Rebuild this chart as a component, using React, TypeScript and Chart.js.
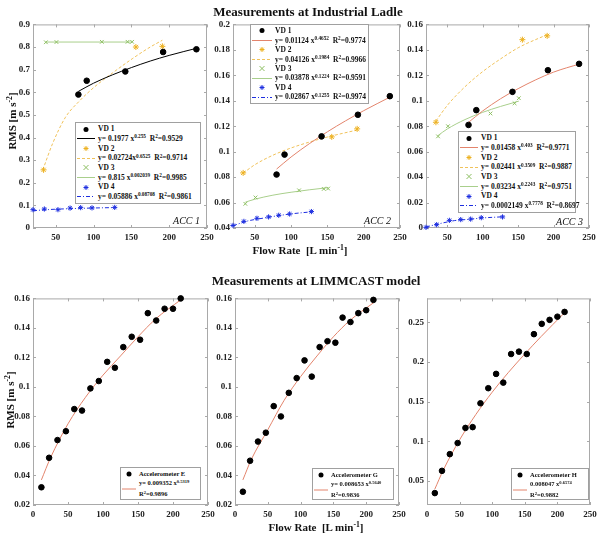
import React, { useEffect, useRef } from "react";
import { Chart, registerables } from "chart.js";
Chart.register(...registerables);

// ---------------- data ----------------
const TOP_X_TICKS = [50, 100, 150, 200, 250];
const BOTTOM_X_TICKS = [0, 50, 100, 150, 200, 250];
const ACC1_Y_TICKS = [0, 0.1, 0.2, 0.3, 0.4, 0.5, 0.6, 0.7, 0.8, 0.9];
const ACC2_Y_TICKS = [0.04, 0.06, 0.08, 0.1, 0.12, 0.14, 0.16, 0.18, 0.2];
const ACC3_Y_TICKS = [0, 0.02, 0.04, 0.06, 0.08, 0.1, 0.12, 0.14, 0.16];
const LIM_Y_TICKS = [0.02, 0.04, 0.06, 0.08, 0.1, 0.12, 0.14, 0.16];
const H_Y_TICKS = [0.05, 0.1, 0.15, 0.2, 0.25];

// flow rates of the ladle measurements
const VD1_X = [80, 91, 142, 192, 236];
const VD2_X = [34, 156, 191];
const VD3_X = [37, 51, 111, 145, 151];
const VD4_X = [20, 35, 53, 69, 83, 98, 128];

const ACC1_VD1 = [0.59, 0.651, 0.692, 0.778, 0.79];
const ACC1_VD2 = [0.257, 0.8, 0.803];
const ACC1_VD3 = [0.821, 0.822, 0.823, 0.823, 0.823];
const ACC1_VD4 = [0.081, 0.084, 0.081, 0.088, 0.09, 0.089, 0.091];

const ACC2_VD1 = [0.082, 0.0977, 0.112, 0.129, 0.1436];
const ACC2_VD2 = [0.0833, 0.1116, 0.1179];
const ACC2_VD3 = [0.059, 0.064, 0.0696, 0.0707, 0.071];
const ACC2_VD4 = [0.042, 0.0452, 0.0476, 0.0487, 0.05, 0.051, 0.0529];

const ACC3_VD1 = [0.081, 0.0926, 0.107, 0.124, 0.129];
const ACC3_VD2 = [0.0831, 0.148, 0.151];
const ACC3_VD3 = [0.072, 0.08, 0.09, 0.098, 0.102];
const ACC3_VD4 = [0.0005, 0.0026, 0.006, 0.0066, 0.007, 0.0081, 0.0087];

// fitted curves
const FIT_VD1_X = [80, 100, 125, 150, 175, 200, 237];
const ACC1_FIT_VD1 = [0.604, 0.64, 0.677, 0.709, 0.738, 0.763, 0.795];
const ACC1_FIT_VD2_X = [33, 46, 63, 81, 100, 125, 152, 175, 191];
const ACC1_FIT_VD2 = [0.257, 0.374, 0.49, 0.56, 0.62, 0.685, 0.75, 0.8, 0.83];
const ACC1_FIT_VD3_X = [37, 151];
const ACC1_FIT_VD3 = [0.822, 0.822];
const FIT_VD4_X = [20, 40, 60, 80, 100, 128];
const ACC1_FIT_VD4 = [0.0765, 0.0814, 0.0844, 0.0866, 0.0884, 0.0903];

const FIT_VD2_X = [34, 50, 75, 100, 125, 150, 191];
const FIT_VD3_X = [37, 50, 75, 100, 125, 151];
const ACC2_FIT_VD1 = [0.0863, 0.0958, 0.1062, 0.1156, 0.1242, 0.1322, 0.1431];
const ACC2_FIT_VD2 = [0.0831, 0.0897, 0.0972, 0.1029, 0.1075, 0.1115, 0.117];
const ACC2_FIT_VD3 = [0.0603, 0.0626, 0.0658, 0.0681, 0.07, 0.0717];
const ACC2_FIT_VD4 = [0.0418, 0.0455, 0.0476, 0.0495, 0.0511, 0.0527];

const ACC3_FIT_VD1 = [0.083, 0.092, 0.1015, 0.1095, 0.1165, 0.1225, 0.129];
const ACC3_FIT_VD2 = [0.0841, 0.0963, 0.111, 0.1229, 0.1328, 0.1416, 0.152];
const ACC3_FIT_VD3 = [0.0727, 0.0778, 0.0852, 0.0909, 0.0955, 0.0997];
const ACC3_FIT_VD4 = [0.0008, 0.0035, 0.0058, 0.0068, 0.0079, 0.0088];

// LIMMCAST model
const LIM_X = [12, 23, 35, 47, 59, 70, 82, 94, 106, 117, 129, 141, 153, 164, 176, 188, 200, 211];
const ACC_E = [0.032, 0.052, 0.064, 0.07, 0.085, 0.084, 0.099, 0.104, 0.117, 0.113, 0.127, 0.134, 0.132, 0.15, 0.145, 0.153, 0.153, 0.16];
const ACC_G = [0.029, 0.05, 0.063, 0.069, 0.087, 0.08, 0.096, 0.106, 0.118, 0.107, 0.127, 0.131, 0.13, 0.147, 0.144, 0.15, 0.152, 0.159];
const ACC_H = [0.035, 0.063, 0.084, 0.098, 0.117, 0.118, 0.148, 0.167, 0.185, 0.174, 0.21, 0.213, 0.21, 0.235, 0.248, 0.253, 0.257, 0.263];
const LIM_FIT_X = [12, 25, 50, 75, 100, 125, 150, 175, 211];
const FIT_E = [0.037, 0.052, 0.075, 0.093, 0.108, 0.121, 0.134, 0.146, 0.159];
const FIT_G = [0.037, 0.051, 0.071, 0.091, 0.107, 0.121, 0.134, 0.145, 0.157];
const FIT_H = [0.04, 0.064, 0.102, 0.134, 0.162, 0.187, 0.21, 0.232, 0.262];

// legend equations: [coefficient + " x", exponent, R^2]
const ACC1_EQ = [["0.1977 x", "0.255", "0.9529"], ["0.02724x", "0.6525", "0.9714"], ["0.815 x", "0.002039", "0.9985"], ["0.05886 x", "0.08708", "0.9861"]];
const ACC2_EQ = [["0.01124 x", "0.4652", "0.9774"], [" 0.04126 x", "0.1984", "0.9966"], ["0.03878 x", "0.1224", "0.9591"], ["0.02867  x", "0.1255", "0.9974"]];
const ACC3_EQ = [["0.01458 x", "0.403", "0.9771"], ["0.02441 x", "0.3509", "0.9887"], ["0.03234  x", "0.2243", "0.9751"], ["0.0002149  x", "0.7778", "0.8697"]];
const VD_NAMES = ["VD 1", "VD 2", "VD 3", "VD 4"];
const LIM_NAMES = ["Accelerometer E", "Accelerometer G", "Accelerometer H"];
const LIM_EQ = [["y= 0.009352 x", "0.5319", "0.9896"], ["y= 0.008653 x", "0.5640", "0.9836"], ["0.008047 x", "0.6574", "0.9882"]];

// ---------------- styling ----------------
const SERIF = '"Liberation Serif", "Times New Roman", serif';
const COL = {
  black: "#000000",
  red: "#e3846c",
  orange: "#edb120",
  orangeLine: "#f0c25a",
  green: "#8dbf62",
  greenLine: "#a9cf8c",
  blue: "#1d2ee0",
};
const YW = 34, PT = 8, PR = 14, XH = 20;

const pts = (xs: number[], ys: number[]) => xs.map((x, i) => ({ x, y: ys[i] }));

function markers(xs: number[], ys: number[], style: string, color: string, r = 3) {
  return {
    data: pts(xs, ys),
    showLine: false,
    pointStyle: style,
    pointRadius: r,
    pointBorderColor: color,
    pointBackgroundColor: color,
    pointBorderWidth: 1,
    clip: false,
  };
}
function fit(xs: number[], ys: number[], color: string, dash: number[] = []) {
  return {
    data: pts(xs, ys),
    showLine: true,
    pointRadius: 0,
    borderColor: color,
    borderWidth: 1,
    borderDash: dash,
    cubicInterpolationMode: "monotone",
    fill: false,
    clip: false,
  };
}

const DASH = [3, 2];
const DASHDOT = [4, 2, 1, 2];

const framePlugin = {
  id: "frame",
  beforeDatasetsDraw(chart: any) {
    const { ctx, chartArea: a, scales } = chart;
    ctx.save();
    ctx.strokeStyle = "#a9a9a9";
    ctx.lineWidth = 1;
    ctx.strokeRect(a.left + 0.5, a.top + 0.5, a.right - a.left - 1, a.bottom - a.top - 1);
    ctx.beginPath();
    scales.x.ticks.forEach((t: any) => {
      const p = Math.round(scales.x.getPixelForValue(t.value)) + 0.5;
      ctx.moveTo(p, a.bottom); ctx.lineTo(p, a.bottom - 3);
      ctx.moveTo(p, a.top); ctx.lineTo(p, a.top + 3);
    });
    scales.y.ticks.forEach((t: any) => {
      const p = Math.round(scales.y.getPixelForValue(t.value)) + 0.5;
      ctx.moveTo(a.left, p); ctx.lineTo(a.left + 3, p);
      ctx.moveTo(a.right, p); ctx.lineTo(a.right - 3, p);
    });
    ctx.stroke();
    ctx.restore();
  },
};

type Spec = {
  box: [number, number, number, number];
  xMin: number; xMax: number; xTicks: number[];
  yMin: number; yMax: number; yTicks: number[];
  datasets: any[];
};

function buildConfig(spec: Spec): any {
  const tickFont = { family: SERIF, size: 9, weight: "bold" as const };
  const fmt = (v: any) => String(Number(Number(v).toFixed(4)));
  return {
    type: "scatter",
    data: { datasets: spec.datasets },
    options: {
      animation: false,
      responsive: false,
      maintainAspectRatio: false,
      devicePixelRatio: 1,
      events: [],
      layout: { padding: { left: 0, top: PT, right: PR, bottom: 0 } },
      plugins: { legend: { display: false }, tooltip: { enabled: false } },
      scales: {
        x: {
          type: "linear", position: "bottom", min: spec.xMin, max: spec.xMax,
          grid: { display: false, drawTicks: false, tickLength: 0 }, border: { display: false },
          ticks: { font: tickFont, color: "#222", padding: 4, maxRotation: 0, autoSkip: false, callback: fmt },
          afterBuildTicks: (s: any) => { s.ticks = spec.xTicks.map((v) => ({ value: v })); },
          afterFit: (s: any) => { s.height = XH; },
        },
        y: {
          type: "linear", position: "left", min: spec.yMin, max: spec.yMax,
          grid: { display: false, drawTicks: false, tickLength: 0 }, border: { display: false },
          ticks: { font: tickFont, color: "#222", padding: 3, autoSkip: false, callback: fmt },
          afterBuildTicks: (s: any) => { s.ticks = spec.yTicks.map((v) => ({ value: v })); },
          afterFit: (s: any) => { s.width = YW; },
        },
      },
    },
    plugins: [framePlugin],
  };
}

function ChartBox({ spec }: { spec: Spec }) {
  const ref = useRef<HTMLCanvasElement>(null);
  const [L, T, R, B] = spec.box;
  const w = R - L + YW + PR;
  const h = B - T + PT + XH;
  useEffect(() => {
    const chart = new Chart(ref.current as HTMLCanvasElement, buildConfig(spec));
    return () => chart.destroy();
  }, []);
  return (
    <div style={{ position: "absolute", left: L - YW, top: T - PT, width: w, height: h }}>
      <canvas ref={ref} width={w} height={h} style={{ width: w, height: h, display: "block" }} />
    </div>
  );
}

// ---------------- html text helpers ----------------
const Sup = ({ children }: any) => (
  <span style={{ fontSize: "0.7em", position: "relative", top: "-0.5em" }}>{children}</span>
);

function Txt({ x, y, size, children, rotate = 0, italic = false, bold = true, anchor = "center" }: any) {
  const tx = anchor === "center" ? "-50%" : anchor === "right" ? "-100%" : "0";
  return (
    <div
      style={{
        position: "absolute", left: x, top: y, whiteSpace: "nowrap",
        transform: `translate(${tx}, -50%) rotate(${rotate}deg)`,
        fontFamily: SERIF, fontSize: size, fontWeight: bold ? "bold" : "normal",
        fontStyle: italic ? "italic" : "normal", color: "#111", lineHeight: 1,
      }}
    >
      {children}
    </div>
  );
}

function Sym({ kind, color, dash, w, h }: any) {
  const cx = w / 2, cy = h / 2, r = 2.5;
  let el: any = null;
  if (kind === "line") {
    el = <line x1={0} x2={w} y1={cy} y2={cy} stroke={color} strokeWidth={1} strokeDasharray={dash ? dash.join(" ") : undefined} />;
  } else if (kind === "circle") {
    el = <circle cx={cx} cy={cy} r={r} fill={color} />;
  } else if (kind === "crossRot") {
    el = <path d={`M${cx - r} ${cy - r}L${cx + r} ${cy + r}M${cx - r} ${cy + r}L${cx + r} ${cy - r}`} stroke={color} strokeWidth={1} />;
  } else if (kind === "star") {
    const d = r * 0.707;
    el = <path d={`M${cx - r} ${cy}L${cx + r} ${cy}M${cx} ${cy - r}L${cx} ${cy + r}M${cx - d} ${cy - d}L${cx + d} ${cy + d}M${cx - d} ${cy + d}L${cx + d} ${cy - d}`} stroke={color} strokeWidth={1} />;
  }
  return <svg width={w} height={h} style={{ display: "block", flex: "none" }}>{el}</svg>;
}

function Legend({ x, y, w, h, rows, symW, fs }: any) {
  return (
    <div
      style={{
        position: "absolute", left: x, top: y, width: w, height: h, boxSizing: "border-box",
        border: "1px solid #a0a0a0", background: "#fff", display: "flex", flexDirection: "column",
        justifyContent: "space-evenly", padding: "1px 1px", fontFamily: SERIF, fontWeight: "bold",
        fontSize: fs, color: "#111", lineHeight: 1, whiteSpace: "nowrap",
      }}
    >
      {rows.map((r: any, i: number) => (
        <div key={i} style={{ display: "flex", alignItems: "center", height: r.h }}>
          <Sym kind={r.kind} color={r.color} dash={r.dash} w={symW} h={r.h} />
          <div style={{ marginLeft: 3 }}>{r.text}</div>
        </div>
      ))}
    </div>
  );
}

const eqText = (e: string[]) => (
  <span>
    y= {e[0]}<Sup>{e[1]}</Sup>&nbsp;&nbsp;R<Sup>2</Sup>=0.{e[2].slice(2)}
  </span>
);

function vdRows(eqs: string[][], lineColor1: string) {
  const mk = [
    { kind: "circle", color: COL.black },
    { kind: "star", color: COL.orange },
    { kind: "crossRot", color: COL.green },
    { kind: "star", color: COL.blue },
  ];
  const ln = [
    { color: lineColor1, dash: null },
    { color: COL.orangeLine, dash: DASH },
    { color: COL.greenLine, dash: null },
    { color: COL.blue, dash: DASHDOT },
  ];
  const rows: any[] = [];
  for (let i = 0; i < 4; i++) {
    rows.push({ kind: mk[i].kind, color: mk[i].color, h: 9, text: VD_NAMES[i] });
    rows.push({ kind: "line", color: ln[i].color, dash: ln[i].dash, h: 9, text: eqText(eqs[i]) });
  }
  return rows;
}

function limRows(i: number) {
  const e = LIM_EQ[i];
  return [
    { kind: "circle", color: COL.black, h: 10, text: LIM_NAMES[i] },
    {
      kind: "line", color: COL.red, h: 20,
      text: (
        <div style={{ lineHeight: "10px" }}>
          <div>{e[0]}<Sup>{e[1]}</Sup></div>
          <div>R<Sup>2</Sup>={e[2]}</div>
        </div>
      ),
    },
  ];
}

// ---------------- chart specs ----------------
function vdSets(y1: number[], y2: number[], y3: number[], y4: number[], f1: number[], f1c: string,
  f2x: number[], f2: number[], f3x: number[], f3: number[], f4x: number[], f4: number[]) {
  return [
    markers(VD1_X, y1, "circle", COL.black, 2.8),
    markers(VD2_X, y2, "star", COL.orange, 3),
    markers(VD3_X, y3, "crossRot", COL.green, 2.6),
    markers(VD4_X, y4, "star", COL.blue, 2.6),
    fit(FIT_VD1_X, f1, f1c),
    fit(f2x, f2, COL.orangeLine, DASH),
    fit(f3x, f3, COL.greenLine),
    fit(f4x, f4, COL.blue, DASHDOT),
  ];
}

const SPECS: Spec[] = [
  {
    box: [33, 24, 207, 228], xMin: 20, xMax: 250, xTicks: TOP_X_TICKS, yMin: 0, yMax: 0.9, yTicks: ACC1_Y_TICKS,
    datasets: vdSets(ACC1_VD1, ACC1_VD2, ACC1_VD3, ACC1_VD4, ACC1_FIT_VD1, COL.black,
      ACC1_FIT_VD2_X, ACC1_FIT_VD2, ACC1_FIT_VD3_X, ACC1_FIT_VD3, FIT_VD4_X, ACC1_FIT_VD4),
  },
  {
    box: [233, 24, 400, 228], xMin: 20, xMax: 250, xTicks: TOP_X_TICKS, yMin: 0.04, yMax: 0.2, yTicks: ACC2_Y_TICKS,
    datasets: vdSets(ACC2_VD1, ACC2_VD2, ACC2_VD3, ACC2_VD4, ACC2_FIT_VD1, COL.red,
      FIT_VD2_X, ACC2_FIT_VD2, FIT_VD3_X, ACC2_FIT_VD3, FIT_VD4_X, ACC2_FIT_VD4),
  },
  {
    box: [426, 24, 589, 228], xMin: 20, xMax: 250, xTicks: TOP_X_TICKS, yMin: 0, yMax: 0.16, yTicks: ACC3_Y_TICKS,
    datasets: vdSets(ACC3_VD1, ACC3_VD2, ACC3_VD3, ACC3_VD4, ACC3_FIT_VD1, COL.red,
      FIT_VD2_X, ACC3_FIT_VD2, FIT_VD3_X, ACC3_FIT_VD3, FIT_VD4_X, ACC3_FIT_VD4),
  },
  {
    box: [33, 298, 208, 505], xMin: 0, xMax: 250, xTicks: BOTTOM_X_TICKS, yMin: 0.02, yMax: 0.16, yTicks: LIM_Y_TICKS,
    datasets: [markers(LIM_X, ACC_E, "circle", COL.black, 2.8), fit(LIM_FIT_X, FIT_E, COL.red)],
  },
  {
    box: [235, 298, 399, 505], xMin: 0, xMax: 250, xTicks: BOTTOM_X_TICKS, yMin: 0.02, yMax: 0.16, yTicks: LIM_Y_TICKS,
    datasets: [markers(LIM_X, ACC_G, "circle", COL.black, 2.8), fit(LIM_FIT_X, FIT_G, COL.red)],
  },
  {
    box: [427, 298, 590, 505], xMin: 0, xMax: 250, xTicks: BOTTOM_X_TICKS, yMin: 0.02, yMax: 0.28, yTicks: H_Y_TICKS,
    datasets: [markers(LIM_X, ACC_H, "circle", COL.black, 2.8), fit(LIM_FIT_X, FIT_H, COL.red)],
  },
];

export default function App() {
  return (
    <div style={{ position: "absolute", left: 0, top: 0, width: 600, height: 534, background: "#fff", overflow: "hidden" }}>
      {SPECS.map((s, i) => <ChartBox key={i} spec={s} />)}

      <Txt x={308} y={11} size={13}>Measurements at Industrial Ladle</Txt>
      <Txt x={316} y={280} size={13}>Measurements at LIMMCAST model</Txt>
      <Txt x={300} y={250} size={11}>Flow Rate&nbsp; [L min<Sup>-1</Sup>]</Txt>
      <Txt x={316} y={527} size={11}>Flow Rate&nbsp; [L min<Sup>-1</Sup>]</Txt>
      <Txt x={12} y={121} size={11} rotate={-90}>RMS [m s<Sup>-2</Sup>]</Txt>
      <Txt x={10} y={400} size={11} rotate={-90}>RMS [m s<Sup>-2</Sup>]</Txt>

      <Txt x={200} y={221} size={10} italic bold={false} anchor="right">ACC 1</Txt>
      <Txt x={391} y={221} size={10} italic bold={false} anchor="right">ACC 2</Txt>
      <Txt x={583} y={222} size={10} italic bold={false} anchor="right">ACC 3</Txt>

      <Legend x={75} y={122} w={126} h={82} symW={18} fs={7.5} rows={vdRows(ACC1_EQ, COL.black)} />
      <Legend x={250} y={24} w={119} h={80} symW={20} fs={7.5} rows={vdRows(ACC2_EQ, COL.red)} />
      <Legend x={458} y={131} w={118} h={82} symW={18} fs={7.5} rows={vdRows(ACC3_EQ, COL.red)} />

      <Legend x={120} y={467} w={81} h={33} symW={14} fs={6.5} rows={limRows(0)} />
      <Legend x={312} y={468} w={82} h={32} symW={14} fs={6.5} rows={limRows(1)} />
      <Legend x={511} y={468} w={78} h={32} symW={14} fs={6.5} rows={limRows(2)} />
    </div>
  );
}
